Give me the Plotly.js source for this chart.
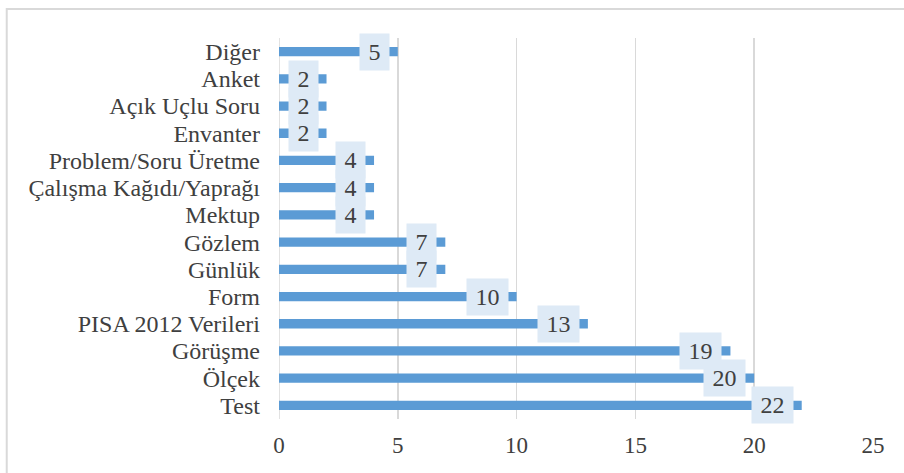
<!DOCTYPE html>
<html>
<head>
<meta charset="utf-8">
<script src="https://cdn.plot.ly/plotly-3.0.1.min.js"></script>
<style>html,body{margin:0;padding:0;background:#fff;}#chart{width:904px;height:473px;}</style>
</head>
<body>
<div id="chart"></div>
<script>
// Categories listed top to bottom
const categories = ["Diğer", "Anket", "Açık Uçlu Soru", "Envanter", "Problem/Soru Üretme",
  "Çalışma Kağıdı/Yaprağı", "Mektup", "Gözlem", "Günlük", "Form",
  "PISA 2012 Verileri", "Görüşme", "Ölçek", "Test"];
const counts = [5, 2, 2, 2, 4, 4, 4, 7, 7, 10, 13, 19, 20, 22];
const xTicks = [0, 5, 10, 15, 20, 25];

const FONT = 'Times New Roman, Liberation Serif, Times, serif';
const W = 904, H = 473;
const m = {l: 278.5, r: 31, t: 38, b: 54.4};
const pw = W - m.l - m.r, ph = H - m.t - m.b;
const px = v => (v - m.l) / pw;
const py = v => (H - m.b - v) / ph;

const annotations = categories.map((c, i) => ({
  x: counts[i], y: c, xref: 'x', yref: 'y',
  text: String(counts[i]),
  showarrow: false, xanchor: 'right', yanchor: 'middle', xshift: -8,
  bgcolor: '#DEEAF6', borderpad: 3,
  width: 11 + 12 * String(counts[i]).length, height: 30,
  font: {family: FONT, size: 24, color: '#404040'}
}));

const trace = {
  type: 'bar', orientation: 'h',
  x: counts, y: categories,
  marker: {color: '#5B9BD5'},
  width: 0.34,
  hoverinfo: 'none'
};

const layout = {
  width: W, height: H,
  margin: m,
  paper_bgcolor: '#fff', plot_bgcolor: '#fff',
  showlegend: false,
  font: {family: FONT, size: 24, color: '#404040'},
  xaxis: {
    range: [0, 25], tickmode: 'array', tickvals: xTicks, ticktext: xTicks.map(String),
    showgrid: true, gridcolor: '#D9D9D9', gridwidth: 1.5,
    zeroline: false, showline: false, ticks: '', automargin: false,
    ticklabelstandoff: 10,
    tickfont: {family: FONT, size: 23, color: '#404040'}
  },
  yaxis: {
    type: 'category', range: [categories.length - 0.5, -0.5],
    tickmode: 'array', tickvals: categories, ticktext: categories,
    showgrid: false, zeroline: false, showline: false, ticks: '', automargin: false,
    ticklabelstandoff: 18,
    tickfont: {family: FONT, size: 24, color: '#404040'}
  },
  shapes: [
    {type: 'line', xref: 'x', yref: 'paper', x0: 0, x1: 0, y0: 0, y1: 1,
     line: {color: '#D9D9D9', width: 1.5}, layer: 'below'},
    {type: 'rect', xref: 'paper', yref: 'paper',
     x0: px(6), x1: px(915), y0: py(9), y1: py(490),
     line: {color: '#D9D9D9', width: 2}, fillcolor: 'rgba(0,0,0,0)'}
  ],
  annotations: annotations
};

Plotly.newPlot('chart', [trace], layout, {staticPlot: true, displayModeBar: false});
</script>
</body>
</html>
